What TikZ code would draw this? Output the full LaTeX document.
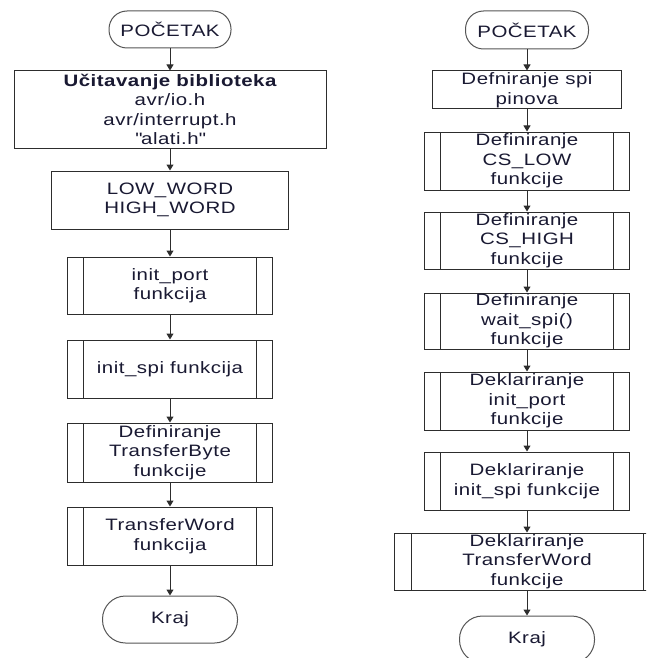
\documentclass[tikz,border=0pt]{standalone}
\usepackage{fontspec}
\setmainfont{Liberation Sans}[FakeStretch=1.24, LetterSpace=3]
\usetikzlibrary{arrows.meta}
\definecolor{txt}{RGB}{25,25,50}
\definecolor{edge}{RGB}{45,45,45}
\definecolor{term}{RGB}{85,85,85}
\tikzset{
  base/.style={draw=edge, line width=1pt, text=txt, align=center,
    font=\fontsize{16.5}{19.5}\selectfont, inner sep=0pt, fill=white},
  procbox/.style={base, rectangle},
  subbox/.style={base, rectangle,
    path picture={
      \draw[edge, line width=1pt] ([xshift=#1]path picture bounding box.north west) -- ([xshift=#1]path picture bounding box.south west);
      \draw[edge, line width=1pt] ([xshift=-#1]path picture bounding box.north east) -- ([xshift=-#1]path picture bounding box.south east);
    }},
  subbox/.default=16pt,
  termbox/.style={base, draw=term, rectangle, rounded corners=18pt},
  flow/.style={draw=edge, line width=1pt, -{Triangle[length=6pt,width=7pt]}},
}
\begin{document}
\begin{tikzpicture}[x=1pt,y=-1pt]
\useasboundingbox (0,0) rectangle (646,658);
\clip (0,0) rectangle (646,658);
% left column
\node[termbox, minimum width=122pt, minimum height=37pt] (ls) at (170,29.5) {POČETAK};
\node[procbox, minimum width=312pt, minimum height=77pt] (l1) at (170,109.5) {{\bfseries Učitavanje biblioteka}\\avr/io.h\\avr/interrupt.h\\\textquotedbl alati.h\textquotedbl};
\node[procbox, minimum width=237pt, minimum height=58pt] (l2) at (170,200) {LOW\_WORD\\HIGH\_WORD};
\node[subbox, minimum width=205pt, minimum height=57pt] (l3) at (170,285.5) {init\_port\\funkcija};
\node[subbox, minimum width=205pt, minimum height=58pt] (l4) at (170,369) {init\_spi funkcija};
\node[subbox, minimum width=205pt, minimum height=59pt] (l5) at (170,452.5) {Definiranje\\TransferByte\\funkcije};
\node[subbox, minimum width=205pt, minimum height=58pt] (l6) at (170,536) {TransferWord\\funkcija};
\node[termbox, minimum width=135pt, minimum height=47pt, rounded corners=23pt] (le) at (170,619.5) {Kraj};
\draw[flow] (ls) -- (l1);
\draw[flow] (l1) -- (l2);
\draw[flow] (l2) -- (l3);
\draw[flow] (l3) -- (l4);
\draw[flow] (l4) -- (l5);
\draw[flow] (l5) -- (l6);
\draw[flow] (l6) -- (le);
% right column
\node[termbox, minimum width=123pt, minimum height=38pt] (rs) at (527,30) {POČETAK};
\node[procbox, minimum width=189pt, minimum height=38pt] (r1) at (527,90) {Defniranje spi\\pinova};
\node[subbox, minimum width=205pt, minimum height=58pt] (r2) at (527,161) {Definiranje\\CS\_LOW\\funkcije};
\node[subbox, minimum width=205pt, minimum height=57pt] (r3) at (527,240.5) {Definiranje\\CS\_HIGH\\funkcije};
\node[subbox, minimum width=205pt, minimum height=56pt] (r4) at (527,321) {Definiranje\\wait\_spi()\\funkcije};
\node[subbox, minimum width=205pt, minimum height=58pt] (r5) at (527,401) {Deklariranje\\init\_port\\funkcije};
\node[subbox, minimum width=205pt, minimum height=58pt] (r6) at (527,481) {Deklariranje\\init\_spi funkcije};
\node[subbox=17pt, minimum width=266pt, minimum height=57pt] (r7) at (527,561.5) {Deklariranje\\TransferWord\\funkcije};
\node[termbox, minimum width=135pt, minimum height=47pt, rounded corners=23pt] (re) at (527,639.5) {Kraj};
\draw[flow] (rs) -- (r1);
\draw[flow] (r1) -- (r2);
\draw[flow] (r2) -- (r3);
\draw[flow] (r3) -- (r4);
\draw[flow] (r4) -- (r5);
\draw[flow] (r5) -- (r6);
\draw[flow] (r6) -- (r7);
\draw[flow] (r7) -- (re);
\end{tikzpicture}
\end{document}
